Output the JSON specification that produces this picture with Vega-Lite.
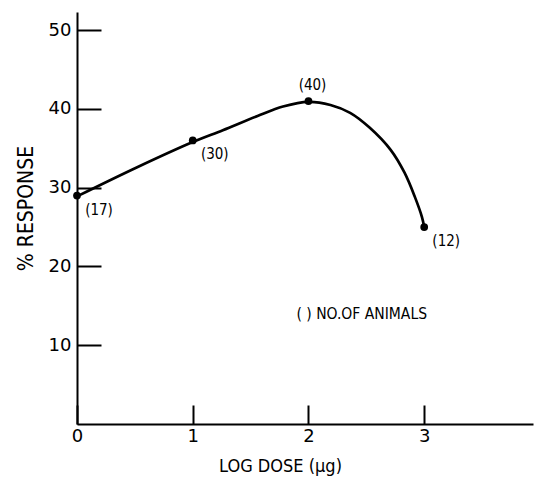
{
  "$schema": "https://vega.github.io/schema/vega-lite/v6.json",
  "width": 456,
  "height": 412,
  "autosize": {"type": "none"},
  "padding": {"left": 77, "top": 12, "right": 2, "bottom": 57},
  "background": "white",
  "config": {
    "view": {"stroke": null},
    "axis": {"grid": false, "domainColor": "black", "domainWidth": 2, "tickColor": "black", "tickWidth": 2, "labelColor": "black", "titleColor": "black"}
  },
  "datasets": {
    "points": [
      {"dose": 0, "response": 29, "animals": "(17)"},
      {"dose": 1, "response": 36, "animals": "(30)"},
      {"dose": 2, "response": 41, "animals": "(40)"},
      {"dose": 3, "response": 25, "animals": "(12)"}
    ],
    "curve": [
      {"dose": 0, "response": 28.9},
      {"dose": 0.52, "response": 32.6},
      {"dose": 1, "response": 35.8},
      {"dose": 1.26, "response": 37.3},
      {"dose": 1.56, "response": 39.1},
      {"dose": 1.78, "response": 40.3},
      {"dose": 2, "response": 40.9},
      {"dose": 2.19, "response": 40.5},
      {"dose": 2.36, "response": 39.5},
      {"dose": 2.53, "response": 37.6},
      {"dose": 2.71, "response": 34.8},
      {"dose": 2.83, "response": 31.9},
      {"dose": 2.92, "response": 28.8},
      {"dose": 2.98, "response": 26.3},
      {"dose": 3, "response": 25.0}
    ],
    "note": [{"dose": 2.46, "response": 14, "text": "( ) NO.OF ANIMALS"}]
  },
  "encoding": {
    "x": {
      "field": "dose", "type": "quantitative",
      "scale": {"domain": [0, 3.94], "nice": false, "zero": false},
      "axis": {
        "values": [0, 1, 2, 3], "title": "LOG DOSE (μg)", "tickSize": -19, "labelPadding": 22,
        "labelFlush": false, "labelFont": "DejaVu Sans", "labelFontSize": 18,
        "titleFont": "DejaVu Sans Condensed, Liberation Sans", "titleFontSize": 18, "titleFontWeight": "normal",
        "titleX": 203, "titleY": 47, "titleBaseline": "alphabetic", "titleAlign": "center"
      }
    },
    "y": {
      "field": "response", "type": "quantitative",
      "scale": {"domain": [0, 52.3], "nice": false, "zero": false},
      "axis": {
        "values": [10, 20, 30, 40, 50], "title": "% RESPONSE", "tickSize": -24, "labelPadding": 30,
        "labelFlush": false, "labelFont": "DejaVu Sans", "labelFontSize": 18,
        "titleFont": "DejaVu Sans Condensed, Liberation Sans", "titleFontSize": 21, "titleFontWeight": "normal",
        "titleX": -45, "titleY": 196, "titleBaseline": "alphabetic", "titleAlign": "center", "titleAngle": -90
      }
    }
  },
  "layer": [
    {"data": {"name": "curve"}, "mark": {"type": "line", "interpolate": "catmull-rom", "color": "black", "strokeWidth": 2.7}},
    {"data": {"name": "points"}, "mark": {"type": "point", "filled": true, "color": "black", "size": 60, "opacity": 1}},
    {
      "data": {"name": "points"},
      "transform": [{"filter": "datum.dose != 2"}],
      "mark": {"type": "text", "font": "DejaVu Sans Condensed, Liberation Sans", "fontSize": 15, "color": "black", "dx": 22, "dy": 14, "align": "center", "baseline": "middle"},
      "encoding": {"text": {"field": "animals"}}
    },
    {
      "data": {"name": "points"},
      "transform": [{"filter": "datum.dose == 2"}],
      "mark": {"type": "text", "font": "DejaVu Sans Condensed, Liberation Sans", "fontSize": 15, "color": "black", "dx": 4, "dy": -16, "align": "center", "baseline": "middle"},
      "encoding": {"text": {"field": "animals"}}
    },
    {
      "data": {"name": "note"},
      "mark": {"type": "text", "font": "DejaVu Sans Condensed, Liberation Sans", "fontSize": 15.5, "color": "black", "align": "center", "baseline": "middle"},
      "encoding": {"text": {"field": "text"}}
    }
  ]
}
